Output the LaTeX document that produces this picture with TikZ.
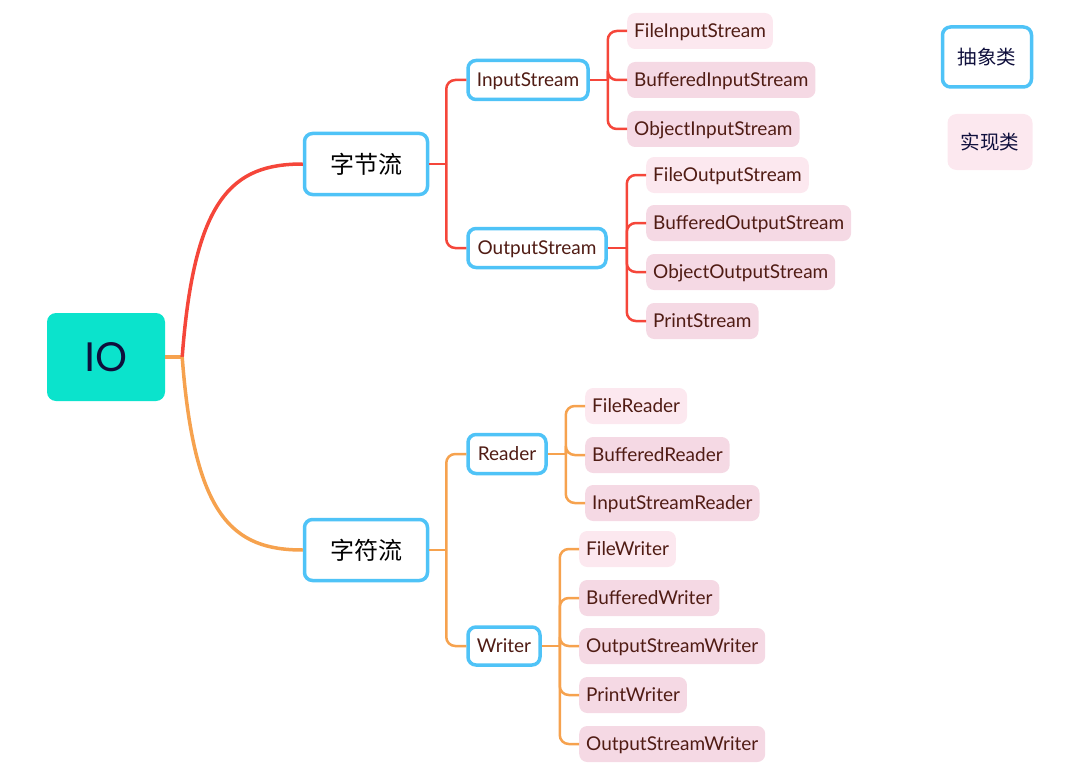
\documentclass[tikz,border=0pt]{standalone}
\usepackage{fontspec}
\setmainfont{Lato}
\newfontfamily\cjk{Noto Sans CJK SC}
\usetikzlibrary{calc}
\definecolor{teal}{RGB}{11,227,204}
\definecolor{absblue}{RGB}{79,195,247}
\definecolor{redline}{RGB}{245,70,58}
\definecolor{orangeline}{RGB}{246,162,78}
\definecolor{pinklight}{RGB}{252,232,239}
\definecolor{pinkdark}{RGB}{245,217,228}
\definecolor{txtbrown}{RGB}{80,28,20}
\definecolor{navy}{RGB}{15,15,60}
\tikzset{
  x=1pt, y=-1pt,
  absnode/.style={draw=absblue, line width=3.5pt, rounded corners=8pt, fill=white, inner sep=0pt, text=txtbrown, text height=16pt, text depth=3pt, font=\fontsize{19}{22}\selectfont},
  topnode/.style={absnode, minimum width=123pt, minimum height=61pt, text=black, text height=21pt, text depth=3pt, font=\cjk\fontsize{24}{28}\selectfont},
  leafA/.style={fill=pinklight, rounded corners=8pt, inner xsep=7pt, inner ysep=0pt, minimum height=36pt, anchor=west, text=txtbrown, text height=16pt, text depth=3pt, font=\fontsize{19}{22}\selectfont},
  leafB/.style={leafA, fill=pinkdark},
  legtext/.style={text=navy, text height=17pt, text depth=2pt, font=\cjk\fontsize{19.5}{23}\selectfont},
  redbr/.style={draw=redline, line width=2.5pt, rounded corners=9pt},
  orbr/.style={draw=orangeline, line width=2.5pt, rounded corners=9pt},
}
\begin{document}
\begin{tikzpicture}
\useasboundingbox (0,0) rectangle (1092,773);
% root
\node[fill=teal, rounded corners=9pt, minimum width=118pt, minimum height=88pt, text=navy, font=\fontsize{40}{44}\selectfont] (io) at (106,357) {IO};
% level 1
\node[topnode] (byte) at (366,164) {字节流};
\node[topnode] (char) at (366,550) {字符流};
% level 2
\node[absnode, minimum width=120pt, minimum height=39pt] (ins) at (528,80) {InputStream};
\node[absnode, minimum width=138pt, minimum height=39pt] (outs) at (537,248) {OutputStream};
\node[absnode, minimum width=78pt, minimum height=39pt] (rdr) at (507,454) {Reader};
\node[absnode, minimum width=72pt, minimum height=38pt] (wtr) at (504,646) {Writer};
% leaves
\node[leafA] (fis) at (627,31) {FileInputStream};
\node[leafB] (bis) at (627,80) {BufferedInputStream};
\node[leafB] (ois) at (627,129) {ObjectInputStream};
\node[leafA] (fos) at (646,175) {FileOutputStream};
\node[leafB] (bos) at (646,223) {BufferedOutputStream};
\node[leafB] (oos) at (646,272) {ObjectOutputStream};
\node[leafB] (ps) at (646,321) {PrintStream};
\node[leafA] (fr) at (585,406) {FileReader};
\node[leafB] (br) at (585,455) {BufferedReader};
\node[leafB] (isr) at (585,503) {InputStreamReader};
\node[leafA] (fw) at (579,549) {FileWriter};
\node[leafB] (bw) at (579,598) {BufferedWriter};
\node[leafB] (osw) at (579,646) {OutputStreamWriter};
\node[leafB] (pw) at (579,695) {PrintWriter};
\node[leafB] (osw2) at (579,744) {OutputStreamWriter};
% legend
\node[absnode, minimum width=89pt, minimum height=60pt, legtext] (leg1) at (987,57) {抽象类};
\node[fill=pinklight, rounded corners=9pt, minimum width=85pt, minimum height=56pt, legtext] (leg2) at (990,142) {实现类};
% junctions
\coordinate (j0) at ($(io.east)+(17,0)$);
\coordinate (j1) at ($(byte.east)+(17,0)$);
\coordinate (j2) at ($(char.east)+(17,0)$);
\coordinate (j3) at ($(ins.east)+(18,0)$);
\coordinate (j4) at ($(outs.east)+(19,0)$);
\coordinate (j5) at ($(rdr.east)+(18,0)$);
\coordinate (j6) at ($(wtr.east)+(18,0)$);
% main curves
\draw[orangeline, line width=3.5pt] (io.east) -- (j0);
\draw[redline, line width=3.5pt] (j0) .. controls ($(j0)+(12,-160)$) and ($(byte.west)+(-70,0)$) .. (byte.west);
\draw[orangeline, line width=3.5pt] (j0) .. controls ($(j0)+(12,160)$) and ($(char.west)+(-70,0)$) .. (char.west);
% byte stream branches
\draw[redbr] (byte.east) -- (j1);
\draw[redbr] (j1) |- (ins.west);
\draw[redbr] (j1) |- (outs.west);
\draw[redbr] (ins.east) -- (j3);
\draw[redbr] (j3) |- (fis.west);
\draw[redbr] (j3) |- (bis.west);
\draw[redbr] (j3) |- (ois.west);
\draw[redbr] (outs.east) -- (j4);
\draw[redbr] (j4) |- (fos.west);
\draw[redbr] (j4) |- (bos.west);
\draw[redbr] (j4) |- (oos.west);
\draw[redbr] (j4) |- (ps.west);
% char stream branches
\draw[orbr] (char.east) -- (j2);
\draw[orbr] (j2) |- (rdr.west);
\draw[orbr] (j2) |- (wtr.west);
\draw[orbr] (rdr.east) -- (j5);
\draw[orbr] (j5) |- (fr.west);
\draw[orbr] (j5) |- (br.west);
\draw[orbr] (j5) |- (isr.west);
\draw[orbr] (wtr.east) -- (j6);
\draw[orbr] (j6) |- (fw.west);
\draw[orbr] (j6) |- (bw.west);
\draw[orbr] (j6) |- (osw.west);
\draw[orbr] (j6) |- (pw.west);
\draw[orbr] (j6) |- (osw2.west);
\end{tikzpicture}
\end{document}
